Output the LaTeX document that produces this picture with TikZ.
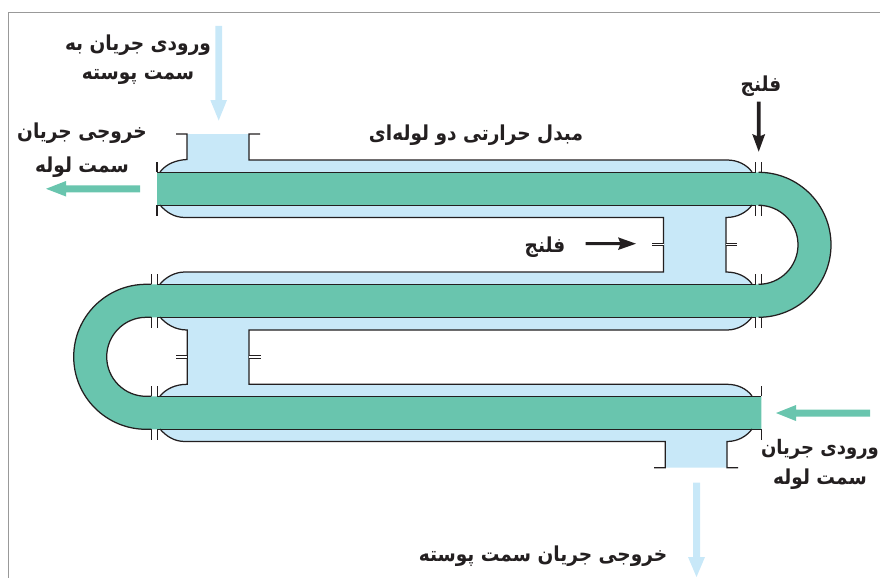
\documentclass[tikz,border=0pt]{standalone}
\usepackage{fontspec}
\newfontfamily\arabicfont[Script=Arabic,FakeStretch=0.9]{DejaVu Sans}
\TeXXeTstate=1
\definecolor{shellblue}{HTML}{C8E8F8}
\definecolor{tubegreen}{HTML}{69C5AE}
\definecolor{inkline}{HTML}{231F20}
\tikzset{
  outline/.style={draw=inkline,line width=1.25pt,line join=miter},
  stub/.style={draw=inkline,line width=1.25pt},
  label/.style={font=\arabicfont\bfseries\fontsize{20.6}{24}\selectfont,text=inkline,inner sep=0pt,align=center,anchor=center},
}
\begin{document}
\begin{tikzpicture}[x=1pt,y=-1pt]
\useasboundingbox (0,0) rectangle (880,578);
\draw[gray!80,line width=1pt] (880,13) -- (8,13) -- (8,578);

% shell fill
\fill[shellblue] (160,172) .. controls (166,164) and (176,160) .. (187,160) -- (187,134) -- (249,134) -- (249,160) -- (727,160)
  .. controls (738,160) and (747,165) .. (752,172) -- (752,205)
  .. controls (747,212) and (738,217.5) .. (726,217.5) -- (726,272)
  .. controls (738,272) and (747,277) .. (752,284) -- (752,317)
  .. controls (747,324) and (738,330) .. (727,330) -- (249,330) -- (249,384.3) -- (727,384.3)
  .. controls (738,384.3) and (747,389) .. (752,396) -- (752,429)
  .. controls (747,436) and (738,441.5) .. (727,441.5) -- (727,467.7) -- (665.3,467.7) -- (665.3,441.5) -- (185,441.5)
  .. controls (174,441.5) and (166,436) .. (160,429) -- (160,396)
  .. controls (166,389) and (175,384.3) .. (187.3,384.3) -- (187.3,330)
  .. controls (175,330) and (166,324) .. (160,317) -- (160,284)
  .. controls (166,277) and (175,272) .. (185,272) -- (663.5,272) -- (663.5,217.5) -- (185,217.5)
  .. controls (174,217.5) and (166,212) .. (160,205) -- cycle;

% tube fill
\fill[tubegreen] (157,172.3) -- (758.5,172.3)
  .. controls (798.5,172.3) and (831,204.8) .. (831,244.8) .. controls (831,284.8) and (798.5,317.3) .. (758.5,317.3)
  -- (146.2,317.3)
  .. controls (124.4,317.3) and (106.7,335) .. (106.7,356.8) .. controls (106.7,378.6) and (124.4,396.3) .. (146.2,396.3)
  -- (761.3,396.3) -- (761.3,429.3) -- (146.2,429.3)
  .. controls (106.2,429.3) and (73.7,396.8) .. (73.7,356.8) .. controls (73.7,316.8) and (106.2,284.3) .. (146.2,284.3)
  -- (758.5,284.3)
  .. controls (780.3,284.3) and (798,266.6) .. (798,244.8) .. controls (798,223) and (780.3,205.3) .. (758.5,205.3)
  -- (157,205.3) -- cycle;

% tube outline
\draw[outline] (157,172.3) -- (755.7,172.3);
\draw[outline] (761.7,172.3) -- (758.5,172.3) .. controls (798.5,172.3) and (831,204.8) .. (831,244.8) .. controls (831,284.8) and (798.5,317.3) .. (758.5,317.3) -- (761.7,317.3);
\draw[outline] (157,205.3) -- (755.7,205.3);
\draw[outline] (761.7,205.3) -- (758.5,205.3) .. controls (780.3,205.3) and (798,223) .. (798,244.8) .. controls (798,266.6) and (780.3,284.3) .. (758.5,284.3) -- (761.7,284.3);
\draw[outline] (157.3,284.3) -- (755.7,284.3);
\draw[outline] (157.3,317.3) -- (755.7,317.3);
\draw[outline] (151.3,284.3) -- (146.2,284.3) .. controls (106.2,284.3) and (73.7,316.8) .. (73.7,356.8) .. controls (73.7,396.8) and (106.2,429.3) .. (146.2,429.3) -- (151.3,429.3);
\draw[outline] (151.3,317.3) -- (146.2,317.3) .. controls (124.4,317.3) and (106.7,335) .. (106.7,356.8) .. controls (106.7,378.6) and (124.4,396.3) .. (146.2,396.3) -- (151.3,396.3);
\draw[outline] (157.3,396.3) -- (761.3,396.3);
\draw[outline] (157.3,429.3) -- (761.3,429.3);

% shell outline
\draw[outline] (160,172) .. controls (166,164) and (176,160) .. (187,159.5) -- (187,134) -- (176,134);
\draw[outline] (260,134) -- (249,134) -- (249,160) -- (727,160) .. controls (738,160) and (747,165) .. (752,172);
\draw[outline] (160,205) .. controls (166,212) and (174,217.5) .. (185,217.5) -- (663.5,217.5) -- (663.5,272) -- (185,272) .. controls (175,272) and (166,277) .. (160,284);
\draw[outline] (752,205) .. controls (747,212) and (738,217.5) .. (726,217.5) -- (726,272) .. controls (738,272) and (747,277) .. (752,284);
\draw[outline] (752,317) .. controls (747,324) and (738,330) .. (727,330) -- (249,330) -- (249,384.3) -- (727,384.3) .. controls (738,384.3) and (747,389) .. (752,396);
\draw[outline] (160,317) .. controls (166,324) and (175,330) .. (187.3,330) -- (187.3,384.3) .. controls (175,384.3) and (166,389) .. (160,396);
\draw[outline] (160,429) .. controls (166,436) and (174,441.5) .. (185,441.5) -- (665.3,441.5) -- (665.3,467.7) -- (654,467.7);
\draw[outline] (752,429) .. controls (747,436) and (738,441.5) .. (727,441.5) -- (727,467.7) -- (738,467.7);

% single end flanges
\draw[stub] (157,162) -- (157,172.3) (157,205.3) -- (157,216);
\draw[stub] (761.3,386) -- (761.3,396.3) (761.3,429.3) -- (761.3,440);

% double flanges
\foreach \xa/\xb in {755.7/761.7}{
  \foreach \ya/\yb in {162/172.3,205.3/216,274.3/284.3,317.3/328}{
    \draw[stub] (\xa,\ya) -- (\xa,\yb) (\xb,\ya) -- (\xb,\yb);
  }
}
\foreach \xa/\xb in {151.3/157.3}{
  \foreach \ya/\yb in {274/284.3,317.3/328,386/396.3,429.3/440}{
    \draw[stub] (\xa,\ya) -- (\xa,\yb) (\xb,\ya) -- (\xb,\yb);
  }
}
% connector flanges
\foreach \xa/\xb/\y in {652.3/663.5/244.3,726/737/244.3,176/187.3/356.7,249/260.5/356.7}{
  \fill[white] (\xa,\y-1) rectangle (\xb,\y+1);
  \draw[draw=inkline,line width=0.8pt] (\xa,\y-1.3) -- (\xb,\y-1.3) (\xa,\y+1.3) -- (\xb,\y+1.3);
}

% flow arrows
\fill[shellblue] (215.3,26) -- (222,26) -- (222,100) -- (227,100) -- (218.7,120.5) -- (210.3,100) -- (215.3,100) -- cycle;
\fill[shellblue] (693,482.7) -- (700,482.7) -- (700,557) -- (705,557) -- (696.5,577) -- (688,557) -- (693,557) -- cycle;
\fill[tubegreen] (140,185.3) -- (140,192.3) -- (66,192.3) -- (66,196.5) -- (46,188.8) -- (66,181) -- (66,185.3) -- cycle;
\fill[tubegreen] (870,409.5) -- (870,416.5) -- (796,416.5) -- (796,421) -- (776,413) -- (796,405) -- (796,409.5) -- cycle;

% black arrows
\fill[inkline] (756.8,101.7) -- (760.6,101.7) -- (760.6,136) -- (765.2,134) -- (758.7,151.7) -- (752.2,134) -- (756.8,136) -- cycle;
\fill[inkline] (585.7,242.2) -- (620,242.2) -- (618,237.3) -- (636,243.7) -- (618,250) -- (620,245.2) -- (585.7,245.2) -- cycle;

% labels
\node[label] (a) at (138,45) {\beginR ورودی جریان به\endR};
\node[label] (b) at (138,77) {\beginR سمت پوسته\endR};
\node[label] (c) at (82,133) {\beginR خروجی جریان\endR};
\node[label] (d) at (82,167) {\beginR سمت لوله\endR};
\node[label] (e) at (476,135) {\beginR مبدل حرارتی دو لوله‌ای\endR};
\node[label] (f) at (761,86) {\beginR فلنج\endR};
\node[label] (g) at (545,247) {\beginR فلنج\endR};
\node[label,font=\arabicfont\bfseries\fontsize{20}{24}\selectfont] (h) at (820,449) {\beginR ورودی جریان\endR};
\node[label] (i) at (820,479) {\beginR سمت لوله\endR};
\node[label] (j) at (543,556) {\beginR خروجی جریان سمت پوسته\endR};
\end{tikzpicture}
\end{document}
